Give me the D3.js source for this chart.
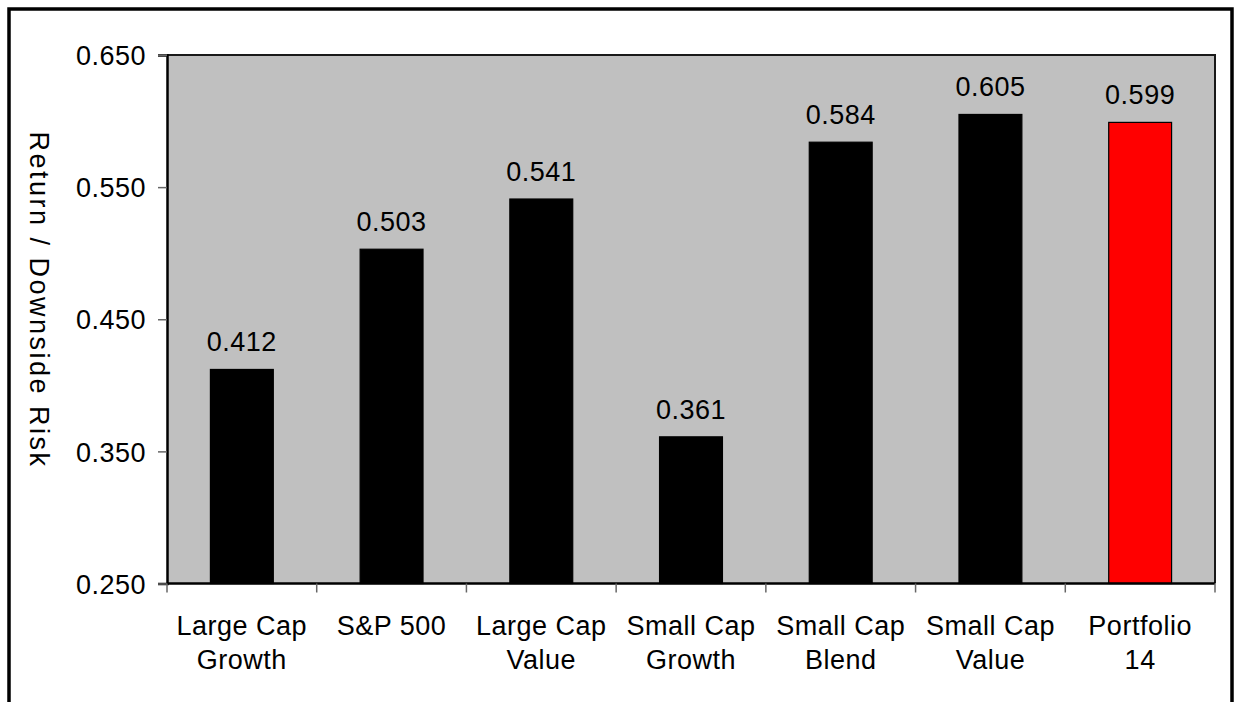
<!DOCTYPE html>
<html>
<head>
<meta charset="utf-8">
<script src="https://cdn.jsdelivr.net/npm/d3@7/dist/d3.min.js"></script>
<style>
  html, body { margin: 0; padding: 0; background: #fff; }
  svg { display: block; }
  text { font-family: "Liberation Sans", Arial, sans-serif; fill: #000; }
</style>
</head>
<body>
<svg id="chart" width="1236" height="702"></svg>
<script>
// Return / downside-risk ratio per asset class
const categories = [
  ["Large Cap", "Growth"],
  ["S&P 500"],
  ["Large Cap", "Value"],
  ["Small Cap", "Growth"],
  ["Small Cap", "Blend"],
  ["Small Cap", "Value"],
  ["Portfolio", "14"]
];
const values = [0.412, 0.503, 0.541, 0.361, 0.584, 0.605, 0.599];
const barColors = ["#000000", "#000000", "#000000", "#000000", "#000000", "#000000", "#FF0000"];
const yTicks = [0.250, 0.350, 0.450, 0.550, 0.650];
const yTitle = "Return / Downside Risk";

const svg = d3.select("#chart");
const plot = { left: 167, right: 1215, top: 55, bottom: 583.5 };
const fontSize = 27;

// outer frame (open at the bottom edge of the page)
svg.append("rect")
  .attr("x", 9).attr("y", 9)
  .attr("width", 1223).attr("height", 740)
  .attr("fill", "#fff").attr("stroke", "#000").attr("stroke-width", 3.5);

const x = d3.scaleBand()
  .domain(d3.range(categories.length))
  .range([plot.left, plot.right])
  .padding(0);

const y = d3.scaleLinear()
  .domain([0.25, 0.65])
  .range([plot.bottom, plot.top]);

// plot background
svg.append("rect")
  .attr("x", plot.left).attr("y", plot.top)
  .attr("width", plot.right - plot.left).attr("height", plot.bottom - plot.top)
  .attr("fill", "#C0C0C0");

// plot frame: top and right edges
svg.append("path")
  .attr("d", `M${plot.left},${plot.top}H${plot.right}V${plot.bottom}`)
  .attr("fill", "none").attr("stroke", "#1a1a1a").attr("stroke-width", 2);

// bars
const barW = x.bandwidth() * 0.42;
svg.append("g").selectAll("rect")
  .data(values)
  .join("rect")
  .attr("x", (d, i) => x(i) + (x.bandwidth() - barW) / 2)
  .attr("y", d => y(d))
  .attr("width", barW)
  .attr("height", d => y(0.25) - y(d))
  .attr("fill", (d, i) => barColors[i])
  .attr("stroke", "#000").attr("stroke-width", 1.2);

// value labels
svg.append("g").selectAll("text")
  .data(values)
  .join("text")
  .attr("x", (d, i) => x(i) + x.bandwidth() / 2)
  .attr("y", d => y(d) - 18)
  .attr("text-anchor", "middle")
  .attr("font-size", fontSize)
  .attr("letter-spacing", 0.5)
  .text(d => d3.format(".3f")(d));

// y axis
const yAxis = svg.append("g")
  .attr("transform", `translate(${plot.left},0)`)
  .call(d3.axisLeft(y).tickValues(yTicks).tickFormat(d3.format(".3f")).tickSize(9).tickPadding(12));
yAxis.select(".domain").attr("stroke", "#000").attr("stroke-width", 2.5);
yAxis.selectAll(".tick line").attr("stroke", "#666").attr("stroke-width", 1.5);
yAxis.selectAll(".tick text")
  .attr("font-size", fontSize)
  .attr("font-family", "Liberation Sans, Arial, sans-serif")
  .attr("letter-spacing", 0.5)
  .attr("fill", "#000")
  .attr("dy", "0.36em");

// x axis with ticks at category boundaries
const xAxis = svg.append("g")
  .attr("transform", `translate(0,${plot.bottom})`);
xAxis.append("line")
  .attr("x1", plot.left).attr("x2", plot.right)
  .attr("stroke", "#000").attr("stroke-width", 2.5);
xAxis.selectAll("line.tick")
  .data(d3.range(categories.length + 1))
  .join("line")
  .attr("class", "tick")
  .attr("x1", i => i < categories.length ? x(i) : plot.right)
  .attr("x2", i => i < categories.length ? x(i) : plot.right)
  .attr("y1", 0).attr("y2", 9)
  .attr("stroke", "#666").attr("stroke-width", 1.5);

// category labels
const catLabels = svg.append("g").selectAll("text")
  .data(categories)
  .join("text")
  .attr("x", (d, i) => x(i) + x.bandwidth() / 2)
  .attr("y", 635)
  .attr("text-anchor", "middle")
  .attr("font-size", fontSize)
  .attr("letter-spacing", 0.5);
catLabels.selectAll("tspan")
  .data(d => d)
  .join("tspan")
  .attr("x", function () { return d3.select(this.parentNode).attr("x"); })
  .attr("dy", (d, i) => i === 0 ? 0 : 34)
  .text(d => d);

// y axis title, rotated to read downward
svg.append("text")
  .attr("transform", "translate(30,300) rotate(90)")
  .attr("text-anchor", "middle")
  .attr("font-size", fontSize)
  .attr("letter-spacing", 2.5)
  .text(yTitle);
</script>
</body>
</html>
